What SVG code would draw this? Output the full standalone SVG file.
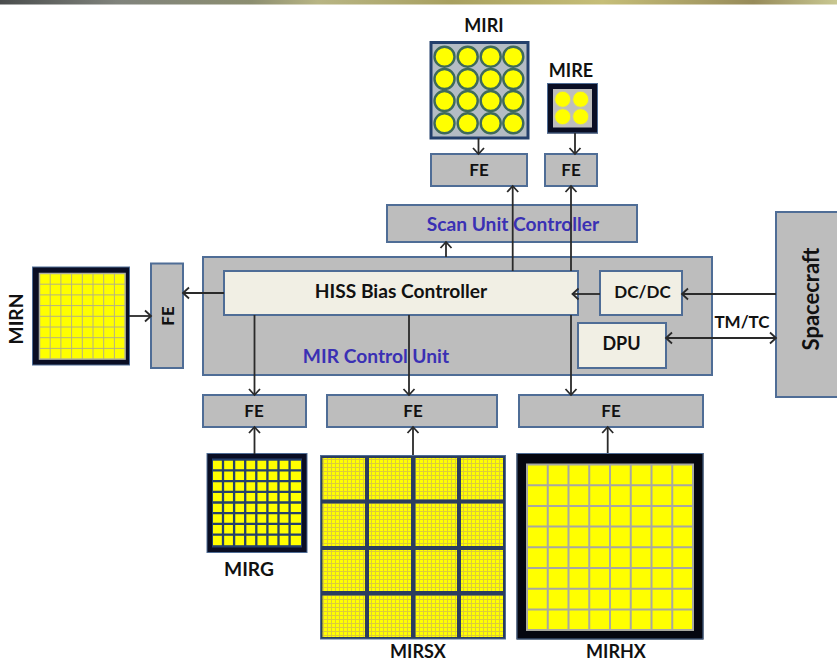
<svg xmlns="http://www.w3.org/2000/svg" width="837" height="665" viewBox="0 0 837 665">
<style>
.box{fill:#bdbdbd;stroke:#4f6d96;stroke-width:2}
.pale{fill:#f1efe4;stroke:#4f6d96;stroke-width:2}
text{font-family:"Lato","Liberation Sans",sans-serif;font-weight:700;font-size:17px;fill:#111;text-anchor:middle}
.s18{font-size:18px}
.s19{font-size:19.200px}
.s22{font-size:22px}
.blue{fill:#3a30b4}
.wire{fill:none;stroke:#2a2a2a;stroke-width:1.800}
.end{marker-end:url(#arrow)}
.both{marker-start:url(#arrow);marker-end:url(#arrow)}
.c1 circle{fill:#ffff00;stroke:#3f6a5a;stroke-width:2.400}
.c2 circle{fill:#ffff00;stroke:#c8c8a0;stroke-width:1}
.tile{fill:url(#fine)}
.gridN{fill:none;stroke:#b4b284;stroke-width:1}
.gridG{fill:none;stroke:#24406c;stroke-width:2.300}
.gridH{fill:none;stroke:#a8a8a0;stroke-width:2}
</style>
<defs>
<marker id="arrow" markerUnits="userSpaceOnUse" markerWidth="14" markerHeight="14" refX="10.500" refY="7" orient="auto-start-reverse" overflow="visible">
<path d="M4.500 1.500 L10.500 7 L4.500 12.500" fill="none" stroke="#2a2a2a" stroke-width="1.800"/>
</marker>
<linearGradient id="band" x1="0" x2="1" y1="0" y2="0">
<stop offset="0" stop-color="#4a4d4d"/>
<stop offset=".14" stop-color="#80837c"/>
<stop offset=".3" stop-color="#8c8e70"/>
<stop offset=".38" stop-color="#b8b584"/>
<stop offset=".54" stop-color="#a8a060"/>
<stop offset=".72" stop-color="#c6be78"/>
<stop offset=".9" stop-color="#978b5a"/>
<stop offset="1" stop-color="#c9c892"/>
</linearGradient>
<pattern id="fine" patternUnits="userSpaceOnUse" x="0" y="0" width="4" height="4">
<rect width="4" height="4" fill="#ffff00"/>
<path d="M3.500 0V4M0 3.500H4" stroke="#dccb3c" stroke-width="1"/>
</pattern>
</defs>

<rect id="top-band" x="0" y="0" width="837" height="4.500" fill="url(#band)"/>

<g id="MIRI">
<rect x="431" y="42.500" width="97" height="95.500" fill="#b4bcc4" stroke="#24406c" stroke-width="3"/>
<g class="c1">
<circle cx="444.500" cy="56.700" r="10"/><circle cx="467.700" cy="56.700" r="10"/><circle cx="490.700" cy="56.700" r="10"/><circle cx="513.300" cy="56.700" r="10"/>
<circle cx="444.500" cy="79" r="10"/><circle cx="467.700" cy="79" r="10"/><circle cx="490.700" cy="79" r="10"/><circle cx="513.300" cy="79" r="10"/>
<circle cx="444.500" cy="101" r="10"/><circle cx="467.700" cy="101" r="10"/><circle cx="490.700" cy="101" r="10"/><circle cx="513.300" cy="101" r="10"/>
<circle cx="444.500" cy="123.300" r="10"/><circle cx="467.700" cy="123.300" r="10"/><circle cx="490.700" cy="123.300" r="10"/><circle cx="513.300" cy="123.300" r="10"/>
</g>
<text class="s18" x="484" y="32">MIRI</text>
</g>

<g id="MIRE">
<rect x="550" y="86" width="45" height="44.500" fill="#bdbdbd" stroke="#0a0e24" stroke-width="6"/>
<rect x="547.500" y="83.500" width="50" height="49.500" fill="none" stroke="#4f6d96" stroke-width="1"/>
<g class="c2">
<circle cx="562.700" cy="99.300" r="8"/><circle cx="580.700" cy="99.300" r="8"/>
<circle cx="562.700" cy="116.700" r="8"/><circle cx="580.700" cy="116.700" r="8"/>
</g>
<text class="s18" x="571" y="77">MIRE</text>
</g>

<g id="FE-MIRI"><rect class="box" x="431" y="154" width="96" height="32"/><text x="479" y="176">FE</text></g>
<g id="FE-MIRE"><rect class="box" x="545" y="154" width="52" height="32"/><text x="571" y="176">FE</text></g>

<g id="scan-unit-controller"><rect class="box" x="387" y="205" width="250" height="37"/><text class="blue s19" x="513" y="231">Scan Unit Controller</text></g>

<g id="mir-control-unit"><rect class="box" x="203" y="257" width="509" height="118"/><text class="blue s19" x="376" y="363">MIR Control Unit</text></g>
<g id="hiss-bias-controller"><rect class="pale" x="224" y="271" width="354" height="44"/><text class="s19" x="401" y="298">HISS Bias Controller</text></g>
<g id="dc-dc"><rect class="pale" x="600" y="271" width="82" height="44"/><text x="642.500" y="298">DC/DC</text></g>
<g id="dpu"><rect class="pale" x="578" y="323" width="88" height="45"/><text class="s18" x="621.500" y="350">DPU</text></g>

<g id="spacecraft"><rect class="box" x="776" y="212" width="64" height="185"/><text class="s22" transform="translate(819 299) rotate(-90)">Spacecraft</text></g>

<g id="FE-MIRN"><rect class="box" x="151" y="263.500" width="32" height="104.500"/><text transform="translate(174 316) rotate(-90)">FE</text></g>
<g id="MIRN">
<rect x="36" y="270.500" width="90" height="91" fill="#0a0e24" stroke="#0a0e24" stroke-width="7"/>
<rect x="32.500" y="267" width="97" height="98" fill="none" stroke="#4f6d96" stroke-width="1"/>
<rect x="39.500" y="273.500" width="85.600" height="85.600" fill="#ffff00" stroke="#aeb0a0" stroke-width="1.500"/>
<path class="gridN" d="M50.200 273.500V359M60.900 273.500V359M71.600 273.500V359M82.300 273.500V359M93 273.500V359M103.700 273.500V359M114.400 273.500V359M39.500 284.200H125M39.500 294.900H125M39.500 305.600H125M39.500 316.300H125M39.500 327H125M39.500 337.700H125M39.500 348.400H125"/>
<text class="s19" transform="translate(22.500 319) rotate(-90)">MIRN</text>
</g>

<g id="FE-MIRG"><rect class="box" x="203" y="395" width="103" height="32"/><text x="254" y="417">FE</text></g>
<g id="FE-MIRSX"><rect class="box" x="327" y="395" width="170" height="32"/><text x="413" y="417">FE</text></g>
<g id="FE-MIRHX"><rect class="box" x="519" y="395" width="184" height="32"/><text x="611" y="417">FE</text></g>

<g id="MIRG">
<rect x="209.500" y="456" width="95" height="94" fill="#24406c" stroke="#0a0e24" stroke-width="5"/>
<rect x="207" y="453.500" width="100" height="99" fill="none" stroke="#4f6d96" stroke-width="1"/>
<rect x="213" y="460.700" width="88" height="84.500" fill="#ffff00"/>
<path class="gridG" d="M223 460V546M234.100 460V546M245.200 460V546M256.300 460V546M267.400 460V546M278.500 460V546M289.600 460V546M212 470.400H302M212 481.100H302M212 491.800H302M212 502.500H302M212 513.200H302M212 523.900H302M212 534.600H302"/>
<text class="s19" x="249" y="576">MIRG</text>
</g>

<g id="MIRSX">
<rect x="320.500" y="455.500" width="185" height="183.500" fill="#2b3d5f" stroke="#4f6d96" stroke-width="1"/>
<rect class="tile" x="322.500" y="458" width="42.500" height="41.500"/><rect class="tile" x="369" y="458" width="42" height="41.500"/><rect class="tile" x="415.500" y="458" width="41.500" height="41.500"/><rect class="tile" x="461" y="458" width="42" height="41.500"/>
<rect class="tile" x="322.500" y="503.500" width="42.500" height="42.500"/><rect class="tile" x="369" y="503.500" width="42" height="42.500"/><rect class="tile" x="415.500" y="503.500" width="41.500" height="42.500"/><rect class="tile" x="461" y="503.500" width="42" height="42.500"/>
<rect class="tile" x="322.500" y="550" width="42.500" height="41"/><rect class="tile" x="369" y="550" width="42" height="41"/><rect class="tile" x="415.500" y="550" width="41.500" height="41"/><rect class="tile" x="461" y="550" width="42" height="41"/>
<rect class="tile" x="322.500" y="595.500" width="42.500" height="41.500"/><rect class="tile" x="369" y="595.500" width="42" height="41.500"/><rect class="tile" x="415.500" y="595.500" width="41.500" height="41.500"/><rect class="tile" x="461" y="595.500" width="42" height="41.500"/>
<text class="s18" x="418" y="658">MIRSX</text>
</g>

<g id="MIRHX">
<rect x="521.500" y="458" width="177" height="176.500" fill="#05060f" stroke="#05060f" stroke-width="10"/>
<rect x="517" y="453.500" width="186" height="185.500" fill="none" stroke="#4f6d96" stroke-width="1"/>
<rect x="527" y="464.500" width="166" height="165.500" fill="#ffff00" stroke="#a8a8a0" stroke-width="2"/>
<path class="gridH" d="M547.750 464.500V630M568.500 464.500V630M589.250 464.500V630M610 464.500V630M630.750 464.500V630M651.500 464.500V630M672.250 464.500V630M527 485.200H693M527 505.900H693M527 526.600H693M527 547.300H693M527 568H693M527 588.700H693M527 609.400H693"/>
<text class="s18" x="616" y="658">MIRHX</text>
</g>

<g id="connectors">
<path class="wire end" d="M478.500 138V154"/>
<path class="wire end" d="M575 133V154"/>
<path class="wire end" d="M446 257V242"/>
<path class="wire end" d="M512.700 271V186"/>
<path class="wire end" d="M571 271V186"/>
<path class="wire end" d="M224 293H183"/>
<path class="wire end" d="M129 316H151"/>
<path class="wire end" d="M600 294H572.500"/>
<path class="wire end" d="M776 294H682"/>
<path class="wire both" d="M666 338H776"/>
<path class="wire end" d="M254.500 315V395"/>
<path class="wire end" d="M409 315V395"/>
<path class="wire end" d="M571 315V395"/>
<path class="wire end" d="M254.500 454V427"/>
<path class="wire end" d="M413 455V427"/>
<path class="wire end" d="M607.700 453V427"/>
</g>
<text id="tm-tc" x="742" y="328">TM/TC</text>
</svg>
